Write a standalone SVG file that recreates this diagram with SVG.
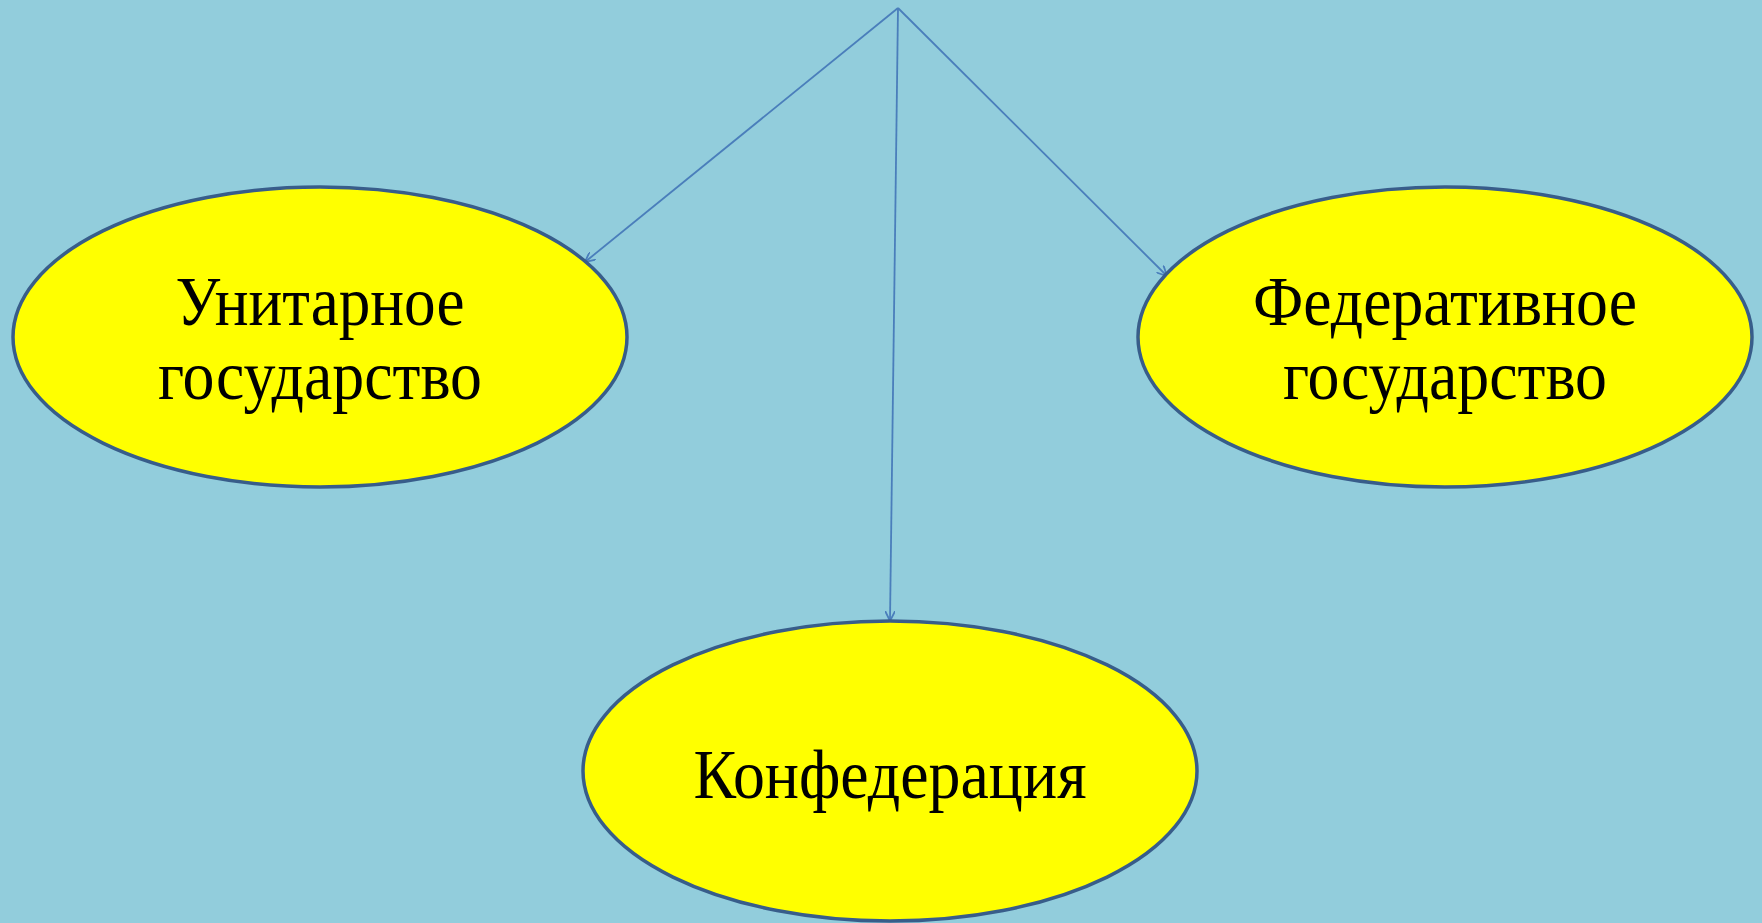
<svg xmlns="http://www.w3.org/2000/svg" width="1762" height="923" viewBox="0 0 1762 923">
<style>
.node ellipse{fill:#ffff00;stroke:#385d8a;stroke-width:3.5}
.node text{font-family:"Liberation Serif","Times New Roman",serif;font-size:70px;fill:#000;text-anchor:middle}
.conn line{stroke:#4a7ebb;stroke-width:1.8;fill:none}
</style>
<defs>
<marker id="arr" viewBox="0 0 10 10" refX="10" refY="5" markerWidth="10" markerHeight="10" markerUnits="userSpaceOnUse" orient="auto">
<path d="M0,0 L10,5 L0,10" fill="none" stroke="#4a7ebb" stroke-width="1.8"/>
</marker>
</defs>
<rect x="0" y="0" width="1762" height="923" fill="#92cddc"/>
<g id="connectors" class="conn">
<line x1="898" y1="8" x2="585" y2="262" marker-end="url(#arr)"/>
<line x1="898" y1="8" x2="1167" y2="276" marker-end="url(#arr)"/>
<line x1="898" y1="8" x2="890" y2="621" marker-end="url(#arr)"/>
</g>
<g id="unitary" class="node">
<ellipse cx="320" cy="337" rx="307" ry="150"/>
<text x="320" y="325" textLength="289" lengthAdjust="spacingAndGlyphs">Унитарное</text>
<text x="320" y="399" textLength="324" lengthAdjust="spacingAndGlyphs">государство</text>
</g>
<g id="federal" class="node">
<ellipse cx="1445" cy="337" rx="307" ry="150"/>
<text x="1445" y="325" textLength="384" lengthAdjust="spacingAndGlyphs">Федеративное</text>
<text x="1445" y="399" textLength="324" lengthAdjust="spacingAndGlyphs">государство</text>
</g>
<g id="confederation" class="node">
<ellipse cx="890" cy="771" rx="307" ry="150"/>
<text x="890" y="798" textLength="393" lengthAdjust="spacingAndGlyphs">Конфедерация</text>
</g>
</svg>
